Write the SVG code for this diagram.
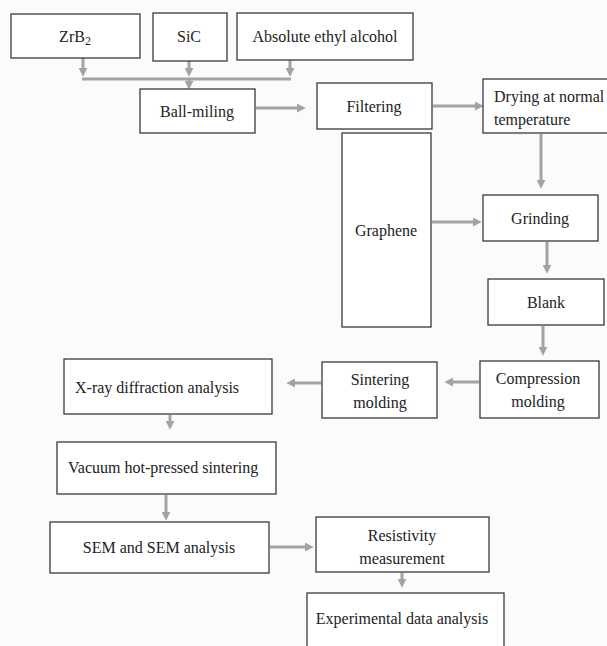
<svg xmlns="http://www.w3.org/2000/svg" width="607" height="646" viewBox="0 0 607 646">
<defs>
<marker id="ah" viewBox="0 0 8 8" markerWidth="9" markerHeight="9" refX="2" refY="4" orient="auto" markerUnits="userSpaceOnUse">
<path d="M0,0 L8,4 L0,8 z" fill="#a3a3a3"/>
</marker>
</defs>
<style>
.box{fill:#fff;stroke:#3a3a3a;stroke-width:1.3}
.t{font-family:'Liberation Serif','Times New Roman',Times,'DejaVu Serif',serif;font-size:16px;fill:#222}
.c{text-anchor:middle}
.ln{fill:none;stroke:#a3a3a3;stroke-width:3}
.ar{marker-end:url(#ah)}
</style>
<rect width="607" height="646" fill="#fbfbfb"/>
<g id="connectors">
<line class="ln ar" x1="83" y1="58" x2="83" y2="70"/>
<line class="ln ar" x1="189" y1="61" x2="189" y2="70"/>
<line class="ln ar" x1="290" y1="60" x2="290" y2="70"/>
<line class="ln" x1="82" y1="79" x2="291" y2="79"/>
<line class="ln ar" x1="189" y1="79" x2="189" y2="83"/>
<line class="ln ar" x1="256" y1="108" x2="299" y2="108"/>
<line class="ln ar" x1="433" y1="106" x2="477" y2="106"/>
<line class="ln ar" x1="541" y1="134" x2="541" y2="182"/>
<line class="ln ar" x1="432" y1="222" x2="475" y2="222"/>
<line class="ln ar" x1="547" y1="242" x2="547" y2="267"/>
<line class="ln ar" x1="543" y1="326" x2="543" y2="349"/>
<line class="ln ar" x1="479" y1="382" x2="451" y2="382"/>
<line class="ln ar" x1="321" y1="383" x2="293" y2="383"/>
<line class="ln ar" x1="170" y1="415" x2="170" y2="423"/>
<line class="ln ar" x1="166" y1="495" x2="166" y2="514"/>
<line class="ln ar" x1="270" y1="547" x2="307" y2="547"/>
<line class="ln ar" x1="402" y1="573" x2="402" y2="581"/>
</g>
<g id="zrb2"><rect class="box" x="11" y="14" width="129" height="44"/><text class="t c" x="75" y="42">ZrB<tspan font-size="12" dy="3">2</tspan></text></g>
<g id="sic"><rect class="box" x="153" y="13" width="74" height="48"/><text class="t c" x="189" y="42">SiC</text></g>
<g id="alcohol"><rect class="box" x="237" y="13" width="176" height="47"/><text class="t c" x="325" y="42">Absolute ethyl alcohol</text></g>
<g id="ballmilling"><rect class="box" x="140" y="89" width="115" height="44"/><text class="t c" x="197" y="117">Ball-miling</text></g>
<g id="filtering"><rect class="box" x="317" y="83" width="115" height="46"/><text class="t c" x="374" y="112">Filtering</text></g>
<g id="drying"><rect class="box" x="483" y="79" width="130" height="54"/><text class="t" x="494" y="102">Drying at normal</text><text class="t" x="494" y="125">temperature</text></g>
<g id="graphene"><rect class="box" x="342" y="133" width="89" height="194"/><text class="t c" x="386" y="236">Graphene</text></g>
<g id="grinding"><rect class="box" x="483" y="195" width="115" height="46"/><text class="t c" x="540" y="224">Grinding</text></g>
<g id="blank"><rect class="box" x="488" y="279" width="116" height="46"/><text class="t c" x="546" y="308">Blank</text></g>
<g id="compression"><rect class="box" x="480" y="361" width="119" height="57"/><text class="t c" x="538" y="384">Compression</text><text class="t c" x="538" y="407">molding</text></g>
<g id="sintering"><rect class="box" x="322" y="362" width="115" height="56"/><text class="t c" x="380" y="385">Sintering</text><text class="t c" x="380" y="408">molding</text></g>
<g id="xray"><rect class="box" x="64" y="359" width="208" height="55"/><text class="t" x="75" y="393">X-ray diffraction analysis</text></g>
<g id="vacuum"><rect class="box" x="57" y="442" width="219" height="52"/><text class="t" x="68" y="473">Vacuum hot-pressed sintering</text></g>
<g id="sem"><rect class="box" x="50" y="522" width="219" height="51"/><text class="t c" x="159" y="553">SEM and SEM analysis</text></g>
<g id="resistivity"><rect class="box" x="316" y="517" width="173" height="55"/><text class="t c" x="402" y="541">Resistivity</text><text class="t c" x="402" y="564">measurement</text></g>
<g id="experimental"><rect class="box" x="307" y="593" width="197" height="60"/><text class="t c" x="402" y="624">Experimental data analysis</text></g>
</svg>
